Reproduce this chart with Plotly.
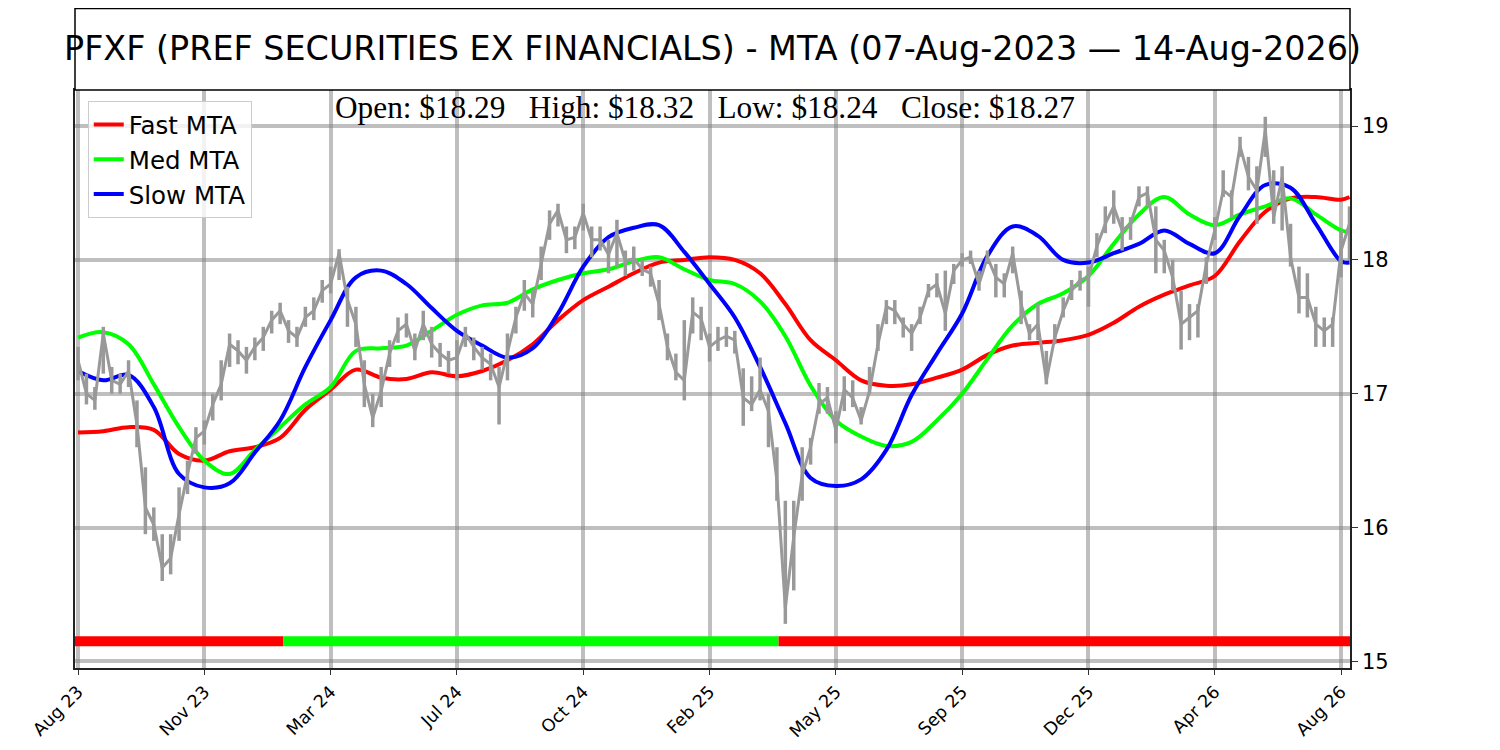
import plotly.graph_objects as go

# ───────────── data (x = trading-bar index) ─────────────
price_step = 5
price = [
    17.25, 17.0, 16.95, 17.45, 17.1, 17.07, 17.17, 16.77, 16.15, 16.02,
    15.7, 15.77, 16.1, 16.4, 16.67, 16.72, 16.92, 17.07, 17.37, 17.32,
    17.25, 17.35, 17.42, 17.55, 17.62, 17.47, 17.42, 17.57, 17.62, 17.77,
    17.82, 18.05, 17.7, 17.52, 17.07, 16.82, 17.02, 17.3, 17.47, 17.52,
    17.32, 17.52, 17.37, 17.3, 17.25, 17.27, 17.45, 17.35, 17.27, 17.22,
    17.05, 17.32, 17.57, 17.75, 17.67, 17.97, 18.27, 18.37, 18.15, 18.17,
    18.35, 18.15, 18.15, 18.04, 18.2, 17.99, 18.01, 17.93, 17.9, 17.67,
    17.35, 17.16, 17.1, 17.61, 17.56, 17.35, 17.4, 17.43, 17.4, 16.97,
    16.92, 17.03, 16.87, 16.35, 15.4, 15.93, 16.39, 16.6, 16.92, 16.97,
    16.73, 17.03, 16.97, 16.8, 17.02, 17.37, 17.65, 17.62, 17.52, 17.45,
    17.57, 17.77, 17.82, 17.6, 17.92, 18.0, 18.02, 17.82, 18.02, 17.87,
    17.82, 18.05, 17.67, 17.45, 17.52, 17.1, 17.42, 17.62, 17.77, 17.85,
    17.87, 18.1, 18.27, 18.4, 18.22, 18.27, 18.47, 18.5, 18.15, 18.07,
    17.87, 17.52, 17.57, 17.62, 17.97, 18.22, 18.52, 18.47, 18.85, 18.62,
    18.52, 18.97, 18.32, 18.62, 18.02, 17.72, 17.72, 17.52, 17.47, 17.52,
    18.07, 18.27,
]
price_hi = [
    17.35, 17.15, 17.05, 17.5, 17.2, 17.15, 17.25, 16.95, 16.45, 16.15,
    15.95, 15.95, 16.3, 16.5, 16.75, 16.8, 17.0, 17.25, 17.45, 17.4,
    17.35, 17.42, 17.5, 17.62, 17.68, 17.55, 17.5, 17.65, 17.72, 17.85,
    17.95, 18.08, 17.8, 17.65, 17.25, 17.0, 17.2, 17.4, 17.57, 17.6,
    17.45, 17.62, 17.5, 17.38, 17.32, 17.4, 17.5, 17.42, 17.35, 17.3,
    17.2, 17.45, 17.65, 17.85, 17.78, 18.1, 18.37, 18.42, 18.25, 18.25,
    18.42, 18.25, 18.25, 18.15, 18.3, 18.07, 18.1, 18.0, 17.95, 17.85,
    17.45, 17.3, 17.55, 17.72, 17.65, 17.45, 17.5, 17.5, 17.47, 17.19,
    17.13, 17.27, 17.0, 16.6, 16.2, 16.2, 16.6, 16.67, 17.08, 17.05,
    16.87, 17.13, 17.1, 16.9, 17.2, 17.52, 17.7, 17.7, 17.57, 17.52,
    17.65, 17.82, 17.9, 17.92, 17.97, 18.05, 18.07, 17.92, 18.07, 17.97,
    17.9, 18.1, 17.77, 17.52, 17.67, 17.32, 17.52, 17.72, 17.85, 17.92,
    17.95, 18.2, 18.4, 18.52, 18.32, 18.32, 18.55, 18.55, 18.4, 18.15,
    18.0, 17.77, 17.67, 17.67, 18.02, 18.32, 18.67, 18.52, 18.92, 18.77,
    18.7, 19.07, 18.67, 18.7, 18.27, 17.95, 17.9, 17.65, 17.57, 17.57,
    18.22, 18.4,
]
price_lo = [
    17.1, 16.92, 16.88, 17.15, 17.0, 17.0, 17.05, 16.6, 15.95, 15.9,
    15.6, 15.65, 15.9, 16.25, 16.55, 16.62, 16.8, 16.95, 17.2, 17.22,
    17.15, 17.25, 17.32, 17.45, 17.52, 17.38, 17.35, 17.5, 17.55, 17.68,
    17.75, 17.85, 17.5, 17.35, 16.9, 16.75, 16.9, 17.2, 17.38, 17.42,
    17.25, 17.4, 17.27, 17.2, 17.15, 17.1, 17.35, 17.25, 17.18, 17.1,
    16.77, 17.1, 17.45, 17.62, 17.57, 17.85, 18.15, 18.25, 18.05, 18.08,
    18.22, 18.02, 18.07, 17.9, 17.95, 17.88, 17.92, 17.88, 17.8, 17.55,
    17.25, 17.1, 16.95, 17.45, 17.4, 17.24, 17.32, 17.35, 17.3, 16.76,
    16.87, 16.95, 16.6, 16.2, 15.28, 15.53, 16.2, 16.47, 16.85, 16.85,
    16.63, 16.87, 16.9, 16.77, 17.0, 17.32, 17.52, 17.52, 17.42, 17.32,
    17.52, 17.72, 17.72, 17.47, 17.82, 17.95, 17.97, 17.77, 17.97, 17.72,
    17.72, 17.9, 17.52, 17.4, 17.4, 17.07, 17.37, 17.57, 17.7, 17.77,
    17.65, 18.02, 18.2, 18.27, 18.07, 18.15, 18.4, 18.4, 17.9, 17.9,
    17.77, 17.33, 17.4, 17.42, 17.82, 18.15, 18.47, 18.32, 18.77, 18.52,
    18.27, 18.77, 18.27, 18.22, 17.95, 17.6, 17.57, 17.35, 17.35, 17.35,
    17.87, 18.0,
]

mta_step = 15
fast_mta = [
    16.71, 16.72, 16.75, 16.73, 16.55, 16.5, 16.57, 16.6, 16.67, 16.88,
    17.03, 17.18, 17.12, 17.11, 17.16, 17.13, 17.17, 17.25, 17.37, 17.55,
    17.7, 17.8, 17.9, 17.98, 18.0, 18.02, 18.0, 17.9, 17.67, 17.4,
    17.25, 17.1, 17.06, 17.07, 17.12, 17.18, 17.29, 17.36, 17.38, 17.4,
    17.44, 17.53, 17.65, 17.74, 17.81, 17.88, 18.14, 18.36, 18.46, 18.47,
    18.45, 18.47,
]
med_mta = [
    17.42, 17.46, 17.37, 17.07, 16.75, 16.5, 16.4, 16.58, 16.75, 16.92,
    17.05, 17.32, 17.34, 17.36, 17.47, 17.59, 17.66, 17.68, 17.78, 17.85,
    17.9, 17.93, 17.99, 18.02, 17.93, 17.85, 17.82, 17.69, 17.43, 17.06,
    16.8, 16.68, 16.61, 16.64, 16.8, 17.0, 17.26, 17.51, 17.67, 17.75,
    17.88, 18.12, 18.34, 18.47, 18.34, 18.26, 18.34, 18.4, 18.46, 18.34,
    18.22, 18.21,
]
slow_mta = [
    17.17, 17.1, 17.14, 16.9, 16.4, 16.3, 16.33, 16.56, 16.8, 17.2,
    17.55, 17.87, 17.92, 17.82, 17.64, 17.47, 17.36, 17.27, 17.34, 17.6,
    17.95, 18.17, 18.24, 18.26, 18.06, 17.82, 17.57, 17.2, 16.78, 16.37,
    16.31, 16.36, 16.58, 16.99, 17.3, 17.6, 18.03, 18.25, 18.18, 18.0,
    17.98, 18.05, 18.12, 18.22, 18.12, 18.05, 18.33, 18.56, 18.54, 18.27,
    17.99, 17.98,
]

# trend regime strip along the bottom
regime_start = [-1.8, 122, 416]
regime_end = [122, 416, 755.3]
regime_color = ["#ff0000", "#00ff00", "#ff0000"]
regime_level = 15.15

tick_bars = [0, 75, 150, 225, 300, 375, 450, 525, 600, 675, 750]
tick_labels = ["Aug 23", "Nov 23", "Mar 24", "Jul 24", "Oct 24", "Feb 25",
               "May 25", "Sep 25", "Dec 25", "Apr 26", "Aug 26"]

title = "PFXF (PREF SECURITIES EX FINANCIALS) - MTA (07-Aug-2023 — 14-Aug-2026)"
ohlc = {"Open": 18.29, "High": 18.32, "Low": 18.24, "Close": 18.27}


# ───────────── build figure ─────────────
last_bar = price_step * (len(price) - 1)
price_x = [i * price_step for i in range(len(price))]
mta_x = [min(i * mta_step, last_bar) for i in range(len(fast_mta))]

fig = go.Figure()

for s, e, c in zip(regime_start, regime_end, regime_color):
    fig.add_trace(go.Scatter(x=[s, e], y=[regime_level, regime_level], mode="lines",
                             line=dict(color=c, width=10), showlegend=False,
                             hoverinfo="skip"))

for name, vals, col in [("Fast MTA", fast_mta, "#ff0000"),
                        ("Med MTA", med_mta, "#00ff00"),
                        ("Slow MTA", slow_mta, "#0000ff")]:
    fig.add_trace(go.Scatter(x=mta_x, y=vals, mode="lines", name=name,
                             line=dict(color=col, width=4, shape="spline",
                                       smoothing=1.0)))

# price bars: close line plus high/low range at each sample
fig.add_trace(go.Scatter(
    x=price_x, y=price, mode="lines", showlegend=False, name="PFXF",
    line=dict(color="#999999", width=3),
    error_y=dict(type="data", symmetric=False,
                 array=[h - c for h, c in zip(price_hi, price)],
                 arrayminus=[c - l for c, l in zip(price, price_lo)],
                 color="#999999", thickness=3.5, width=0),
))

grid = "rgba(128,128,128,0.5)"
fig.update_xaxes(range=[-1.8, 755.3], tickvals=tick_bars, ticktext=tick_labels,
                 tickangle=-45, ticks="outside", ticklen=5, tickcolor="#333",
                 showgrid=True, gridcolor=grid, gridwidth=3.5, zeroline=False,
                 showline=True, linecolor="#222", linewidth=1.5, mirror=True,
                 tickfont=dict(family="DejaVu Sans", size=17.5, color="black"))
fig.update_yaxes(range=[14.95, 19.27], side="right", dtick=1, ticks="outside",
                 ticklen=6, tickcolor="#333", showgrid=True, gridcolor=grid,
                 gridwidth=3.5, zeroline=False, showline=True, linecolor="#222",
                 linewidth=1.5, mirror=True,
                 tickfont=dict(family="DejaVu Sans", size=21, color="black"))

# title box above the plot
fig.add_shape(type="rect", xref="paper", yref="paper", x0=0, x1=1, y0=1, y1=1.141,
              line=dict(color="black", width=1.5), fillcolor="white")
fig.add_annotation(text=title, xref="paper", yref="paper", x=0.5, y=1.071,
                   showarrow=False, xanchor="center", yanchor="middle",
                   font=dict(family="DejaVu Sans", size=33.4, color="black"))

sep = "\u00a0" * 3
summary = sep.join(f"{k}: ${v:.2f}" for k, v in ohlc.items())
fig.add_annotation(text=summary, xref="paper", yref="paper", x=0.494, y=0.969,
                   showarrow=False, xanchor="center", yanchor="middle",
                   font=dict(family="Liberation Serif", size=31.3, color="black"))

# page body has an 8px margin, so the figure is sized to fit inside the window
fig.update_layout(
    width=1484, height=734,
    margin=dict(l=67, r=142, t=82, b=74, autoexpand=False),
    plot_bgcolor="white", paper_bgcolor="white",
    showlegend=True,
    legend=dict(x=0.01, y=0.981, xanchor="left", yanchor="top",
                bgcolor="rgba(255,255,255,0.8)", bordercolor="#cccccc",
                borderwidth=1, font=dict(family="DejaVu Sans", size=24.5, color="black"),
                itemwidth=30, tracegroupgap=0),
    hovermode=False,
)

fig.write_html("out.html")
